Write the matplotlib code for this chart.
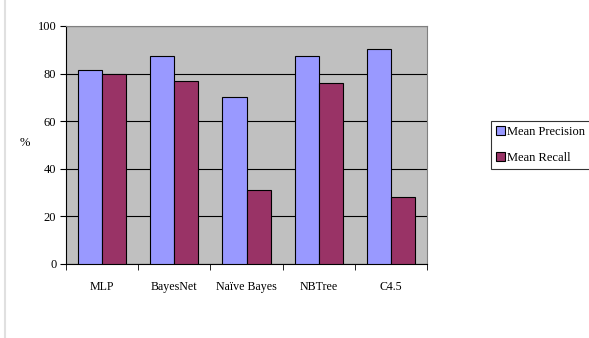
import matplotlib
matplotlib.use("Agg")
import matplotlib.pyplot as plt
import numpy as np
from matplotlib.lines import Line2D

categories = ["MLP", "BayesNet", "Naïve Bayes", "NBTree", "C4.5"]
precision = [81.5, 87.6, 70.0, 87.2, 90.5]
recall = [79.7, 77.0, 31.3, 76.2, 28.2]
yticks = [0, 20, 40, 60, 80, 100]

plt.rcParams['font.family'] = ['Liberation Serif', 'DejaVu Serif']

fig = plt.figure(figsize=(5.89, 3.38), dpi=100)
ax = fig.add_axes([66/589, 1-264/338, (427-66)/589, (264-26)/338])
ax.set_facecolor('#c0c0c0')

x = np.arange(len(categories))
w = 1/3
ax.bar(x - w/2, precision, w, color='#9999ff', edgecolor='black', linewidth=0.8, label='Mean Precision', zorder=3)
ax.bar(x + w/2, recall, w, color='#993366', edgecolor='black', linewidth=0.8, label='Mean Recall', zorder=3)

ax.set_xlim(-0.5, len(categories) - 0.5)
ax.set_ylim(0, 100)
ax.set_yticks(yticks)
ax.set_yticklabels([str(t) for t in yticks], fontsize=9)
ax.yaxis.grid(True, color='black', linewidth=0.8, zorder=1)
ax.set_axisbelow(True)

ax.set_xticks(x)
ax.set_xticklabels(categories, fontsize=8.6)
ax.tick_params(axis='x', length=0, pad=12)
ax.set_xticks(np.arange(-0.5, len(categories), 1), minor=True)
ax.tick_params(axis='x', which='minor', length=4, direction='out', color='black')
ax.tick_params(axis='y', length=4, direction='out', pad=3)

for s in ['top', 'right']:
    ax.spines[s].set_color('#808080')
    ax.spines[s].set_linewidth(0.8)
for s in ['left', 'bottom']:
    ax.spines[s].set_color('black')
    ax.spines[s].set_linewidth(0.8)

fig.text(25/589, 1-143/338, '%', fontsize=9, ha='center', va='center')

leg = fig.legend(loc='upper left', bbox_to_anchor=(491/589, 1-121/338), fontsize=9,
                 frameon=True, fancybox=False, edgecolor='black', handlelength=0.7,
                 handleheight=0.7, handletextpad=0.2, labelspacing=1.1,
                 borderpad=0.4, borderaxespad=0)
leg.get_frame().set_linewidth(0.8)

fig.add_artist(Line2D([5/589, 5/589], [0, 1], color='#e0e0e0', linewidth=1.5, transform=fig.transFigure))

fig.savefig('out.png', dpi=100)
